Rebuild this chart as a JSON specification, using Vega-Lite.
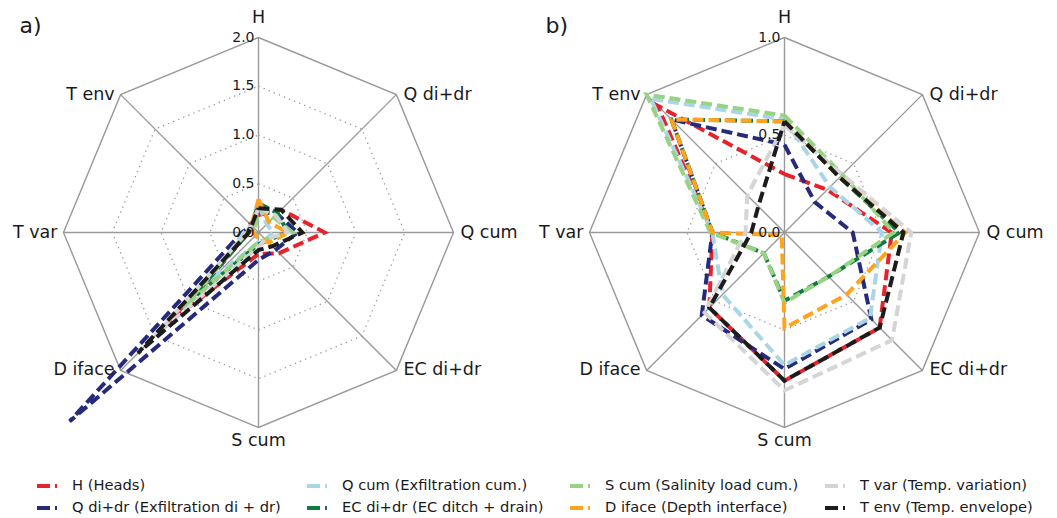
{
  "$schema": "https://vega.github.io/schema/vega-lite/v6.json",
  "padding": 5,
  "background": "white",
  "config": {
    "view": {"stroke": null},
    "font": "DejaVu Sans",
    "concat": {"spacing": 10},
    "legend": {
      "orient": "none",
      "legendX": 30,
      "legendY": 469,
      "columns": 4,
      "columnPadding": 18,
      "rowPadding": 2,
      "labelFont": "DejaVu Sans",
      "labelFontSize": 14.7,
      "labelColor": "#1a1a1a",
      "labelLimit": 0,
      "labelOffset": 13,
      "symbolType": "stroke",
      "symbolSize": 400,
      "symbolStrokeWidth": 4,
      "symbolDash": [13, 5]
    }
  },
  "datasets": {
    "rings": [
      {"p":"a","r":0.25,"k":0},{"p":"a","r":0.25,"k":1},{"p":"a","r":0.25,"k":2},{"p":"a","r":0.25,"k":3},{"p":"a","r":0.25,"k":4},{"p":"a","r":0.25,"k":5},{"p":"a","r":0.25,"k":6},{"p":"a","r":0.25,"k":7},{"p":"a","r":0.25,"k":8},
      {"p":"a","r":0.5,"k":0},{"p":"a","r":0.5,"k":1},{"p":"a","r":0.5,"k":2},{"p":"a","r":0.5,"k":3},{"p":"a","r":0.5,"k":4},{"p":"a","r":0.5,"k":5},{"p":"a","r":0.5,"k":6},{"p":"a","r":0.5,"k":7},{"p":"a","r":0.5,"k":8},
      {"p":"a","r":0.75,"k":0},{"p":"a","r":0.75,"k":1},{"p":"a","r":0.75,"k":2},{"p":"a","r":0.75,"k":3},{"p":"a","r":0.75,"k":4},{"p":"a","r":0.75,"k":5},{"p":"a","r":0.75,"k":6},{"p":"a","r":0.75,"k":7},{"p":"a","r":0.75,"k":8},
      {"p":"a","r":1,"k":0},{"p":"a","r":1,"k":1},{"p":"a","r":1,"k":2},{"p":"a","r":1,"k":3},{"p":"a","r":1,"k":4},{"p":"a","r":1,"k":5},{"p":"a","r":1,"k":6},{"p":"a","r":1,"k":7},{"p":"a","r":1,"k":8},
      {"p":"b","r":0.5,"k":0},{"p":"b","r":0.5,"k":1},{"p":"b","r":0.5,"k":2},{"p":"b","r":0.5,"k":3},{"p":"b","r":0.5,"k":4},{"p":"b","r":0.5,"k":5},{"p":"b","r":0.5,"k":6},{"p":"b","r":0.5,"k":7},{"p":"b","r":0.5,"k":8},
      {"p":"b","r":1,"k":0},{"p":"b","r":1,"k":1},{"p":"b","r":1,"k":2},{"p":"b","r":1,"k":3},{"p":"b","r":1,"k":4},{"p":"b","r":1,"k":5},{"p":"b","r":1,"k":6},{"p":"b","r":1,"k":7},{"p":"b","r":1,"k":8}
    ],
    "spokes": [{"k":0},{"k":1},{"k":2},{"k":3},{"k":4},{"k":5},{"k":6},{"k":7}],
    "ticks": [
      {"p":"a","r":0,"t":"0.0"},{"p":"a","r":0.25,"t":"0.5"},{"p":"a","r":0.5,"t":"1.0"},{"p":"a","r":0.75,"t":"1.5"},{"p":"a","r":1,"t":"2.0"},
      {"p":"b","r":0,"t":"0.0"},{"p":"b","r":0.5,"t":"0.5"},{"p":"b","r":1,"t":"1.0"}
    ],
    "labels": [
      {"k":0,"t":"H"},{"k":1,"t":"Q di+dr"},{"k":2,"t":"Q cum"},{"k":3,"t":"EC di+dr"},
      {"k":4,"t":"S cum"},{"k":5,"t":"D iface"},{"k":6,"t":"T var"},{"k":7,"t":"T env"}
    ],
    "panels": [{"p":"a","t":"a)"},{"p":"b","t":"b)"}],
    "series": [
      {"p":"a","s":"H (Heads)","k":0,"v":0.18},{"p":"a","s":"H (Heads)","k":1,"v":0.33},{"p":"a","s":"H (Heads)","k":2,"v":0.68},{"p":"a","s":"H (Heads)","k":3,"v":0.30},{"p":"a","s":"H (Heads)","k":4,"v":0.22},{"p":"a","s":"H (Heads)","k":5,"v":1.30},{"p":"a","s":"H (Heads)","k":6,"v":0.10},{"p":"a","s":"H (Heads)","k":7,"v":0.12},{"p":"a","s":"H (Heads)","k":8,"v":0.18},
      {"p":"a","s":"Q di+dr (Exfiltration di + dr)","k":0,"v":0.22},{"p":"a","s":"Q di+dr (Exfiltration di + dr)","k":1,"v":0.27},{"p":"a","s":"Q di+dr (Exfiltration di + dr)","k":2,"v":0.40},{"p":"a","s":"Q di+dr (Exfiltration di + dr)","k":3,"v":0.25},{"p":"a","s":"Q di+dr (Exfiltration di + dr)","k":4,"v":0.28},{"p":"a","s":"Q di+dr (Exfiltration di + dr)","k":5,"v":2.74},{"p":"a","s":"Q di+dr (Exfiltration di + dr)","k":6,"v":0.17},{"p":"a","s":"Q di+dr (Exfiltration di + dr)","k":7,"v":0.10},{"p":"a","s":"Q di+dr (Exfiltration di + dr)","k":8,"v":0.22},
      {"p":"a","s":"Q cum (Exfiltration cum.)","k":0,"v":0.28},{"p":"a","s":"Q cum (Exfiltration cum.)","k":1,"v":0.12},{"p":"a","s":"Q cum (Exfiltration cum.)","k":2,"v":0.15},{"p":"a","s":"Q cum (Exfiltration cum.)","k":3,"v":0.10},{"p":"a","s":"Q cum (Exfiltration cum.)","k":4,"v":0.10},{"p":"a","s":"Q cum (Exfiltration cum.)","k":5,"v":0.70},{"p":"a","s":"Q cum (Exfiltration cum.)","k":6,"v":0.15},{"p":"a","s":"Q cum (Exfiltration cum.)","k":7,"v":0.10},{"p":"a","s":"Q cum (Exfiltration cum.)","k":8,"v":0.28},
      {"p":"a","s":"EC di+dr (EC ditch + drain)","k":0,"v":0.30},{"p":"a","s":"EC di+dr (EC ditch + drain)","k":1,"v":0.28},{"p":"a","s":"EC di+dr (EC ditch + drain)","k":2,"v":0.30},{"p":"a","s":"EC di+dr (EC ditch + drain)","k":3,"v":0.12},{"p":"a","s":"EC di+dr (EC ditch + drain)","k":4,"v":0.12},{"p":"a","s":"EC di+dr (EC ditch + drain)","k":5,"v":1.00},{"p":"a","s":"EC di+dr (EC ditch + drain)","k":6,"v":0.10},{"p":"a","s":"EC di+dr (EC ditch + drain)","k":7,"v":0.10},{"p":"a","s":"EC di+dr (EC ditch + drain)","k":8,"v":0.30},
      {"p":"a","s":"S cum (Salinity load cum.)","k":0,"v":0.25},{"p":"a","s":"S cum (Salinity load cum.)","k":1,"v":0.22},{"p":"a","s":"S cum (Salinity load cum.)","k":2,"v":0.35},{"p":"a","s":"S cum (Salinity load cum.)","k":3,"v":0.10},{"p":"a","s":"S cum (Salinity load cum.)","k":4,"v":0.10},{"p":"a","s":"S cum (Salinity load cum.)","k":5,"v":1.10},{"p":"a","s":"S cum (Salinity load cum.)","k":6,"v":0.12},{"p":"a","s":"S cum (Salinity load cum.)","k":7,"v":0.05},{"p":"a","s":"S cum (Salinity load cum.)","k":8,"v":0.25},
      {"p":"a","s":"D iface (Depth interface)","k":0,"v":0.34},{"p":"a","s":"D iface (Depth interface)","k":1,"v":0.15},{"p":"a","s":"D iface (Depth interface)","k":2,"v":0.30},{"p":"a","s":"D iface (Depth interface)","k":3,"v":0.15},{"p":"a","s":"D iface (Depth interface)","k":4,"v":0.05},{"p":"a","s":"D iface (Depth interface)","k":5,"v":0.05},{"p":"a","s":"D iface (Depth interface)","k":6,"v":0.05},{"p":"a","s":"D iface (Depth interface)","k":7,"v":0.10},{"p":"a","s":"D iface (Depth interface)","k":8,"v":0.34},
      {"p":"a","s":"T var (Temp. variation)","k":0,"v":0.25},{"p":"a","s":"T var (Temp. variation)","k":1,"v":0.25},{"p":"a","s":"T var (Temp. variation)","k":2,"v":0.30},{"p":"a","s":"T var (Temp. variation)","k":3,"v":0.10},{"p":"a","s":"T var (Temp. variation)","k":4,"v":0.15},{"p":"a","s":"T var (Temp. variation)","k":5,"v":1.50},{"p":"a","s":"T var (Temp. variation)","k":6,"v":0.12},{"p":"a","s":"T var (Temp. variation)","k":7,"v":0.10},{"p":"a","s":"T var (Temp. variation)","k":8,"v":0.25},
      {"p":"a","s":"T env (Temp. envelope)","k":0,"v":0.25},{"p":"a","s":"T env (Temp. envelope)","k":1,"v":0.33},{"p":"a","s":"T env (Temp. envelope)","k":2,"v":0.45},{"p":"a","s":"T env (Temp. envelope)","k":3,"v":0.20},{"p":"a","s":"T env (Temp. envelope)","k":4,"v":0.18},{"p":"a","s":"T env (Temp. envelope)","k":5,"v":1.75},{"p":"a","s":"T env (Temp. envelope)","k":6,"v":0.10},{"p":"a","s":"T env (Temp. envelope)","k":7,"v":0.10},{"p":"a","s":"T env (Temp. envelope)","k":8,"v":0.25},
      {"p":"b","s":"H (Heads)","k":0,"v":0.30},{"p":"b","s":"H (Heads)","k":1,"v":0.31},{"p":"b","s":"H (Heads)","k":2,"v":0.55},{"p":"b","s":"H (Heads)","k":3,"v":0.69},{"p":"b","s":"H (Heads)","k":4,"v":0.76},{"p":"b","s":"H (Heads)","k":5,"v":0.545},{"p":"b","s":"H (Heads)","k":6,"v":0.37},{"p":"b","s":"H (Heads)","k":7,"v":0.92},{"p":"b","s":"H (Heads)","k":8,"v":0.30},
      {"p":"b","s":"Q di+dr (Exfiltration di + dr)","k":0,"v":0.45},{"p":"b","s":"Q di+dr (Exfiltration di + dr)","k":1,"v":0.22},{"p":"b","s":"Q di+dr (Exfiltration di + dr)","k":2,"v":0.35},{"p":"b","s":"Q di+dr (Exfiltration di + dr)","k":3,"v":0.63},{"p":"b","s":"Q di+dr (Exfiltration di + dr)","k":4,"v":0.70},{"p":"b","s":"Q di+dr (Exfiltration di + dr)","k":5,"v":0.60},{"p":"b","s":"Q di+dr (Exfiltration di + dr)","k":6,"v":0.37},{"p":"b","s":"Q di+dr (Exfiltration di + dr)","k":7,"v":0.82},{"p":"b","s":"Q di+dr (Exfiltration di + dr)","k":8,"v":0.45},
      {"p":"b","s":"Q cum (Exfiltration cum.)","k":0,"v":0.58},{"p":"b","s":"Q cum (Exfiltration cum.)","k":1,"v":0.33},{"p":"b","s":"Q cum (Exfiltration cum.)","k":2,"v":0.50},{"p":"b","s":"Q cum (Exfiltration cum.)","k":3,"v":0.62},{"p":"b","s":"Q cum (Exfiltration cum.)","k":4,"v":0.68},{"p":"b","s":"Q cum (Exfiltration cum.)","k":5,"v":0.45},{"p":"b","s":"Q cum (Exfiltration cum.)","k":6,"v":0.37},{"p":"b","s":"Q cum (Exfiltration cum.)","k":7,"v":0.97},{"p":"b","s":"Q cum (Exfiltration cum.)","k":8,"v":0.58},
      {"p":"b","s":"EC di+dr (EC ditch + drain)","k":0,"v":0.57},{"p":"b","s":"EC di+dr (EC ditch + drain)","k":1,"v":0.40},{"p":"b","s":"EC di+dr (EC ditch + drain)","k":2,"v":0.59},{"p":"b","s":"EC di+dr (EC ditch + drain)","k":3,"v":0.32},{"p":"b","s":"EC di+dr (EC ditch + drain)","k":4,"v":0.35},{"p":"b","s":"EC di+dr (EC ditch + drain)","k":5,"v":0.15},{"p":"b","s":"EC di+dr (EC ditch + drain)","k":6,"v":0.37},{"p":"b","s":"EC di+dr (EC ditch + drain)","k":7,"v":0.82},{"p":"b","s":"EC di+dr (EC ditch + drain)","k":8,"v":0.57},
      {"p":"b","s":"S cum (Salinity load cum.)","k":0,"v":0.60},{"p":"b","s":"S cum (Salinity load cum.)","k":1,"v":0.42},{"p":"b","s":"S cum (Salinity load cum.)","k":2,"v":0.56},{"p":"b","s":"S cum (Salinity load cum.)","k":3,"v":0.32},{"p":"b","s":"S cum (Salinity load cum.)","k":4,"v":0.36},{"p":"b","s":"S cum (Salinity load cum.)","k":5,"v":0.15},{"p":"b","s":"S cum (Salinity load cum.)","k":6,"v":0.38},{"p":"b","s":"S cum (Salinity load cum.)","k":7,"v":1.00},{"p":"b","s":"S cum (Salinity load cum.)","k":8,"v":0.60},
      {"p":"b","s":"D iface (Depth interface)","k":0,"v":0.57},{"p":"b","s":"D iface (Depth interface)","k":1,"v":0.40},{"p":"b","s":"D iface (Depth interface)","k":2,"v":0.62},{"p":"b","s":"D iface (Depth interface)","k":3,"v":0.45},{"p":"b","s":"D iface (Depth interface)","k":4,"v":0.49},{"p":"b","s":"D iface (Depth interface)","k":5,"v":0.02},{"p":"b","s":"D iface (Depth interface)","k":6,"v":0.37},{"p":"b","s":"D iface (Depth interface)","k":7,"v":0.82},{"p":"b","s":"D iface (Depth interface)","k":8,"v":0.57},
      {"p":"b","s":"T var (Temp. variation)","k":0,"v":0.55},{"p":"b","s":"T var (Temp. variation)","k":1,"v":0.42},{"p":"b","s":"T var (Temp. variation)","k":2,"v":0.65},{"p":"b","s":"T var (Temp. variation)","k":3,"v":0.78},{"p":"b","s":"T var (Temp. variation)","k":4,"v":0.81},{"p":"b","s":"T var (Temp. variation)","k":5,"v":0.58},{"p":"b","s":"T var (Temp. variation)","k":6,"v":0.20},{"p":"b","s":"T var (Temp. variation)","k":7,"v":0.27},{"p":"b","s":"T var (Temp. variation)","k":8,"v":0.55},
      {"p":"b","s":"T env (Temp. envelope)","k":0,"v":0.57},{"p":"b","s":"T env (Temp. envelope)","k":1,"v":0.40},{"p":"b","s":"T env (Temp. envelope)","k":2,"v":0.61},{"p":"b","s":"T env (Temp. envelope)","k":3,"v":0.69},{"p":"b","s":"T env (Temp. envelope)","k":4,"v":0.76},{"p":"b","s":"T env (Temp. envelope)","k":5,"v":0.545},{"p":"b","s":"T env (Temp. envelope)","k":6,"v":0.17},{"p":"b","s":"T env (Temp. envelope)","k":7,"v":0.19},{"p":"b","s":"T env (Temp. envelope)","k":8,"v":0.57}
    ]
  },
  "resolve": {"scale": {"x": "independent", "y": "independent", "color": "shared"}, "legend": {"color": "shared"}},
  "hconcat": [
    {
      "width": 516,
      "height": 450,
      "encoding": {
        "x": {"field": "x", "type": "quantitative", "scale": {"domain": [-1.3, 1.3462], "nice": false, "zero": false}, "axis": null},
        "y": {"field": "y", "type": "quantitative", "scale": {"domain": [-1.141, 1.1667], "nice": false, "zero": false}, "axis": null}
      },
      "layer": [
        {
          "data": {"name": "rings"},
          "transform": [{"filter": "datum.p == 'a' && datum.r < 1"}, {"calculate": "datum.r * sin(datum.k * PI / 4)", "as": "x"}, {"calculate": "datum.r * cos(datum.k * PI / 4)", "as": "y"}],
          "mark": {"type": "line", "stroke": "#9a9a9a", "strokeWidth": 1.3, "strokeDash": [1.3, 4.2]},
          "encoding": {"detail": {"field": "r", "type": "nominal"}, "order": {"field": "k", "type": "quantitative"}}
        },
        {
          "data": {"name": "rings"},
          "transform": [{"filter": "datum.p == 'a' && datum.r == 1"}, {"calculate": "datum.r * sin(datum.k * PI / 4)", "as": "x"}, {"calculate": "datum.r * cos(datum.k * PI / 4)", "as": "y"}],
          "mark": {"type": "line", "stroke": "#9a9a9a", "strokeWidth": 1.4},
          "encoding": {"order": {"field": "k", "type": "quantitative"}}
        },
        {
          "data": {"name": "spokes"},
          "transform": [{"calculate": "sin(datum.k * PI / 4)", "as": "x"}, {"calculate": "cos(datum.k * PI / 4)", "as": "y"}],
          "mark": {"type": "rule", "stroke": "#9a9a9a", "strokeWidth": 1.4},
          "encoding": {"x2": {"datum": 0}, "y2": {"datum": 0}}
        },
        {
          "data": {"name": "series"},
          "transform": [{"filter": "datum.p == 'a'"}, {"calculate": "datum.v / 2 * sin(datum.k * PI / 4)", "as": "x"}, {"calculate": "datum.v / 2 * cos(datum.k * PI / 4)", "as": "y"}],
          "mark": {"type": "line", "strokeWidth": 4, "strokeDash": [11, 5], "strokeJoin": "miter"},
          "encoding": {
            "color": {
              "field": "s", "type": "nominal",
              "scale": {
                "domain": ["H (Heads)", "Q di+dr (Exfiltration di + dr)", "Q cum (Exfiltration cum.)", "EC di+dr (EC ditch + drain)", "S cum (Salinity load cum.)", "D iface (Depth interface)", "T var (Temp. variation)", "T env (Temp. envelope)"],
                "range": ["#e8222b", "#262a7c", "#a9d6e6", "#137a3d", "#98d283", "#ffa41c", "#d5d5d5", "#1c1c1c"]
              },
              "legend": {"title": null}
            },
            "order": {"field": "k", "type": "quantitative"}
          }
        },
        {
          "data": {"name": "ticks"},
          "transform": [{"filter": "datum.p == 'a'"}, {"calculate": "0", "as": "x"}, {"calculate": "datum.r", "as": "y"}],
          "mark": {"type": "text", "align": "right", "baseline": "middle", "dx": -4, "fontSize": 14, "color": "#1a1a1a"},
          "encoding": {"text": {"field": "t"}}
        },
        {
          "data": {"name": "labels"},
          "transform": [{"filter": "datum.k >= 1 && datum.k <= 3"}, {"calculate": "sin(datum.k * PI / 4)", "as": "x"}, {"calculate": "cos(datum.k * PI / 4)", "as": "y"}],
          "mark": {"type": "text", "align": "left", "baseline": "middle", "dx": 7, "fontSize": 17.5, "color": "#1a1a1a"},
          "encoding": {"text": {"field": "t"}}
        },
        {
          "data": {"name": "labels"},
          "transform": [{"filter": "datum.k >= 5"}, {"calculate": "sin(datum.k * PI / 4)", "as": "x"}, {"calculate": "cos(datum.k * PI / 4)", "as": "y"}],
          "mark": {"type": "text", "align": "right", "baseline": "middle", "dx": -6, "fontSize": 17.5, "color": "#1a1a1a"},
          "encoding": {"text": {"field": "t"}}
        },
        {
          "data": {"name": "labels"},
          "transform": [{"filter": "datum.k == 0"}, {"calculate": "sin(datum.k * PI / 4)", "as": "x"}, {"calculate": "cos(datum.k * PI / 4)", "as": "y"}],
          "mark": {"type": "text", "align": "center", "baseline": "middle", "dy": -20, "fontSize": 17.5, "color": "#1a1a1a"},
          "encoding": {"text": {"field": "t"}}
        },
        {
          "data": {"name": "labels"},
          "transform": [{"filter": "datum.k == 4"}, {"calculate": "sin(datum.k * PI / 4)", "as": "x"}, {"calculate": "cos(datum.k * PI / 4)", "as": "y"}],
          "mark": {"type": "text", "align": "center", "baseline": "middle", "dy": 13, "fontSize": 17.5, "color": "#1a1a1a"},
          "encoding": {"text": {"field": "t"}}
        },
        {
          "data": {"name": "panels"},
          "transform": [{"filter": "datum.p == 'a'"}, {"calculate": "-1.225", "as": "x"}, {"calculate": "1.06", "as": "y"}],
          "mark": {"type": "text", "align": "left", "baseline": "middle", "fontSize": 22, "color": "#1a1a1a"},
          "encoding": {"text": {"field": "t"}}
        }
      ]
    },
    {
      "width": 516,
      "height": 450,
      "encoding": {
        "x": {"field": "x", "type": "quantitative", "scale": {"domain": [-1.3, 1.3462], "nice": false, "zero": false}, "axis": null},
        "y": {"field": "y", "type": "quantitative", "scale": {"domain": [-1.141, 1.1667], "nice": false, "zero": false}, "axis": null}
      },
      "layer": [
        {
          "data": {"name": "rings"},
          "transform": [{"filter": "datum.p == 'b' && datum.r < 1"}, {"calculate": "datum.r * sin(datum.k * PI / 4)", "as": "x"}, {"calculate": "datum.r * cos(datum.k * PI / 4)", "as": "y"}],
          "mark": {"type": "line", "stroke": "#9a9a9a", "strokeWidth": 1.3, "strokeDash": [1.3, 4.2]},
          "encoding": {"detail": {"field": "r", "type": "nominal"}, "order": {"field": "k", "type": "quantitative"}}
        },
        {
          "data": {"name": "rings"},
          "transform": [{"filter": "datum.p == 'b' && datum.r == 1"}, {"calculate": "datum.r * sin(datum.k * PI / 4)", "as": "x"}, {"calculate": "datum.r * cos(datum.k * PI / 4)", "as": "y"}],
          "mark": {"type": "line", "stroke": "#9a9a9a", "strokeWidth": 1.4},
          "encoding": {"order": {"field": "k", "type": "quantitative"}}
        },
        {
          "data": {"name": "spokes"},
          "transform": [{"calculate": "sin(datum.k * PI / 4)", "as": "x"}, {"calculate": "cos(datum.k * PI / 4)", "as": "y"}],
          "mark": {"type": "rule", "stroke": "#9a9a9a", "strokeWidth": 1.4},
          "encoding": {"x2": {"datum": 0}, "y2": {"datum": 0}}
        },
        {
          "data": {"name": "series"},
          "transform": [{"filter": "datum.p == 'b'"}, {"calculate": "datum.v * sin(datum.k * PI / 4)", "as": "x"}, {"calculate": "datum.v * cos(datum.k * PI / 4)", "as": "y"}],
          "mark": {"type": "line", "strokeWidth": 4, "strokeDash": [11, 5], "strokeJoin": "miter"},
          "encoding": {
            "color": {"field": "s", "type": "nominal", "legend": {"title": null}},
            "order": {"field": "k", "type": "quantitative"}
          }
        },
        {
          "data": {"name": "ticks"},
          "transform": [{"filter": "datum.p == 'b'"}, {"calculate": "0", "as": "x"}, {"calculate": "datum.r", "as": "y"}],
          "mark": {"type": "text", "align": "right", "baseline": "middle", "dx": -4, "fontSize": 14, "color": "#1a1a1a"},
          "encoding": {"text": {"field": "t"}}
        },
        {
          "data": {"name": "labels"},
          "transform": [{"filter": "datum.k >= 1 && datum.k <= 3"}, {"calculate": "sin(datum.k * PI / 4)", "as": "x"}, {"calculate": "cos(datum.k * PI / 4)", "as": "y"}],
          "mark": {"type": "text", "align": "left", "baseline": "middle", "dx": 7, "fontSize": 17.5, "color": "#1a1a1a"},
          "encoding": {"text": {"field": "t"}}
        },
        {
          "data": {"name": "labels"},
          "transform": [{"filter": "datum.k >= 5"}, {"calculate": "sin(datum.k * PI / 4)", "as": "x"}, {"calculate": "cos(datum.k * PI / 4)", "as": "y"}],
          "mark": {"type": "text", "align": "right", "baseline": "middle", "dx": -6, "fontSize": 17.5, "color": "#1a1a1a"},
          "encoding": {"text": {"field": "t"}}
        },
        {
          "data": {"name": "labels"},
          "transform": [{"filter": "datum.k == 0"}, {"calculate": "sin(datum.k * PI / 4)", "as": "x"}, {"calculate": "cos(datum.k * PI / 4)", "as": "y"}],
          "mark": {"type": "text", "align": "center", "baseline": "middle", "dy": -20, "fontSize": 17.5, "color": "#1a1a1a"},
          "encoding": {"text": {"field": "t"}}
        },
        {
          "data": {"name": "labels"},
          "transform": [{"filter": "datum.k == 4"}, {"calculate": "sin(datum.k * PI / 4)", "as": "x"}, {"calculate": "cos(datum.k * PI / 4)", "as": "y"}],
          "mark": {"type": "text", "align": "center", "baseline": "middle", "dy": 13, "fontSize": 17.5, "color": "#1a1a1a"},
          "encoding": {"text": {"field": "t"}}
        },
        {
          "data": {"name": "panels"},
          "transform": [{"filter": "datum.p == 'b'"}, {"calculate": "-1.225", "as": "x"}, {"calculate": "1.06", "as": "y"}],
          "mark": {"type": "text", "align": "left", "baseline": "middle", "fontSize": 22, "color": "#1a1a1a"},
          "encoding": {"text": {"field": "t"}}
        }
      ]
    }
  ]
}
